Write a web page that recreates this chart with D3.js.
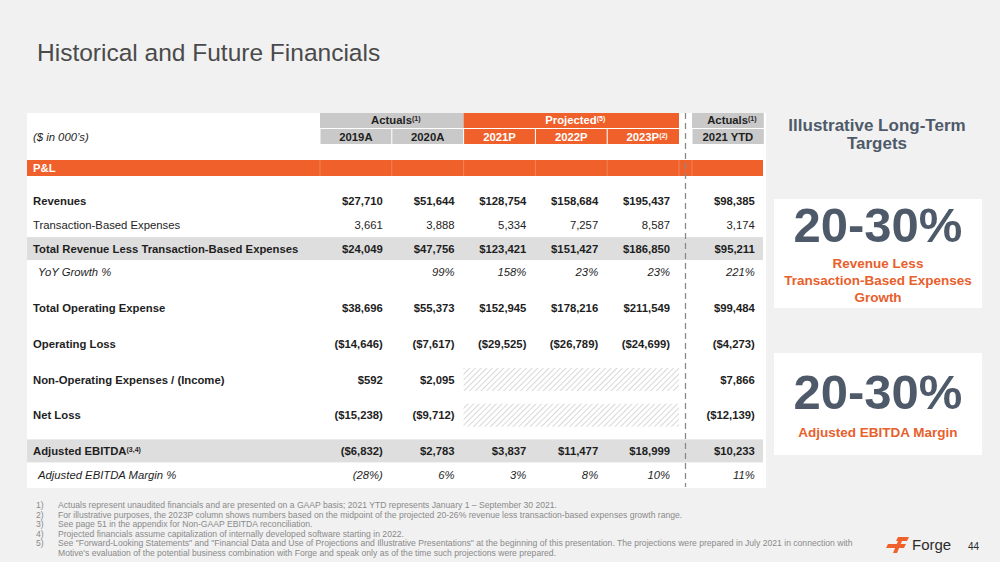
<!DOCTYPE html>
<html><head><meta charset="utf-8">
<script src="https://cdn.jsdelivr.net/npm/d3@7"></script>
<style>
html,body{margin:0;padding:0;background:#f1f1f1;}
svg{display:block;font-family:"Liberation Sans",Arial,sans-serif;}
</style></head>
<body><svg id="c" width="1000" height="562"></svg>
<script>
// ---------- DATA ----------
const columns = ["2019A","2020A","2021P","2022P","2023P","2021 YTD"];
const columnNotes = ["","","","","(2)",""];
const groups = [
  {label:"Actuals", note:"(1)", cols:["2019A","2020A"], kind:"actual"},
  {label:"Projected", note:"(5)", cols:["2021P","2022P","2023P"], kind:"proj"},
  {label:"Actuals", note:"(1)", cols:["2021 YTD"], kind:"actual"}
];
const rowLabels = ["Revenues","Transaction-Based Expenses","Total Revenue Less Transaction-Based Expenses","YoY Growth %","Total Operating Expense","Operating Loss","Non-Operating Expenses / (Income)","Net Loss","Adjusted EBITDA","Adjusted EBITDA Margin %"];
const rowNotes = ["","","","","","","","","(3,4)",""];
const rowStyle = ["bold","normal","band","italic","bold","bold","bold","bold","band","italic"];
const rowSpaced = [false,false,false,false,true,true,true,true,true,false];
const revenues = ["$27,710","$51,644","$128,754","$158,684","$195,437","$98,385"];
const transExp = ["3,661","3,888","5,334","7,257","8,587","3,174"];
const totalRevLess = ["$24,049","$47,756","$123,421","$151,427","$186,850","$95,211"];
const yoyGrowth = ["","99%","158%","23%","23%","221%"];
const totalOpex = ["$38,696","$55,373","$152,945","$178,216","$211,549","$99,484"];
const operatingLoss = ["($14,646)","($7,617)","($29,525)","($26,789)","($24,699)","($4,273)"];
const nonOperating = ["$592","$2,095",null,null,null,"$7,866"];
const netLoss = ["($15,238)","($9,712)",null,null,null,"($12,139)"];
const adjEbitda = ["($6,832)","$2,783","$3,837","$11,477","$18,999","$10,233"];
const adjEbitdaMargin = ["(28%)","6%","3%","8%","10%","11%"];
const rowValues = [revenues,transExp,totalRevLess,yoyGrowth,totalOpex,operatingLoss,nonOperating,netLoss,adjEbitda,adjEbitdaMargin];
const targetValues = ["20-30%","20-30%"];
const targetLabels = [["Revenue Less","Transaction-Based Expenses","Growth"],["Adjusted EBITDA Margin"]];
const footnotes = [
 "Actuals represent unaudited financials and are presented on a GAAP basis; 2021 YTD represents January 1 – September 30 2021.",
 "For illustrative purposes, the 2023P column shows numbers based on the midpoint of the projected 20-26% revenue less transaction-based expenses growth range.",
 "See page 51 in the appendix for Non-GAAP EBITDA reconciliation.",
 "Projected financials assume capitalization of internally developed software starting in 2022.",
 "See \"Forward-Looking Statements\" and \"Financial Data and Use of Projections and Illustrative Presentations\" at the beginning of this presentation. The projections were prepared in July 2021 in connection with\nMotive's evaluation of the potential business combination with Forge and speak only as of the time such projections were prepared."
];

// ---------- LAYOUT ----------
const ORANGE="#f0602a", GRAYH="#c9c9c9", BAND="#dedede", DARK="#1e1e1e", SLATE="#4e5a69";
const FS = 11.3;
const svg = d3.select("#c");
const defs = svg.append("defs");
const pat = defs.append("pattern").attr("id","hatch").attr("patternUnits","userSpaceOnUse")
  .attr("width",4).attr("height",4).attr("patternTransform","rotate(45)");
pat.append("rect").attr("width",4).attr("height",4).attr("fill","#fff");
pat.append("line").attr("x1",0).attr("y1",0).attr("x2",0).attr("y2",4).attr("stroke","#a8a8a8").attr("stroke-width",0.9);

svg.append("text").attr("x",37).attr("y",61).attr("font-size",24.5).attr("fill","#4a4a4a")
  .text("Historical and Future Financials");

// table panel
const T = {x0:27, x1:766, y0:113, y1:488};
svg.append("rect").attr("x",T.x0).attr("y",T.y0).attr("width",T.x1-T.x0).attr("height",T.y1-T.y0).attr("fill","#fff");

// column scale (first five) + YTD after a gap
const xMain = d3.scaleBand().domain(columns.slice(0,5)).range([320,679]).paddingInner(0);
const gap = 13;
const colX = c => c==="2021 YTD" ? 679+gap : xMain(c);
const colW = xMain.bandwidth();

// row scale: cumulative units
const unit = 23.8;
let acc = 0; const rowPos = [];
rowLabels.forEach((r,i)=>{ acc += rowSpaced[i] ? 1.5 : 1; rowPos.push(acc); });
const yScale = d3.scaleLinear().domain([rowPos[0], rowPos[0]+1]).range([201, 201+unit]);
const yRow = i => yScale(rowPos[i]);

// header rows
const h1 = {y:113, h:15}, h2 = {y:129, h:15};
groups.forEach(g=>{
  const x0 = colX(g.cols[0]), x1 = colX(g.cols[g.cols.length-1])+colW;
  svg.append("rect").attr("x",x0).attr("y",h1.y).attr("width",x1-x0).attr("height",h1.h)
    .attr("fill", g.kind==="proj"?ORANGE:GRAYH);
  const t = svg.append("text").attr("x",(x0+x1)/2+4).attr("y",h1.y+11).attr("text-anchor","middle")
    .attr("font-size",FS).attr("font-weight","bold").attr("fill", g.kind==="proj"?"#fff":DARK);
  t.append("tspan").text(g.label);
  t.append("tspan").attr("font-size",7).attr("dy",-3).text(g.note);
});
columns.forEach((c,i)=>{
  const proj = groups[1].cols.includes(c);
  svg.append("rect").attr("x",colX(c)).attr("y",h2.y).attr("width",colW).attr("height",h2.h)
    .attr("fill", proj?ORANGE:GRAYH);
  const t = svg.append("text").attr("x",colX(c)+colW/2 + (columnNotes[i]?4:0)).attr("y",h2.y+11.5).attr("text-anchor","middle")
    .attr("font-size",FS).attr("font-weight","bold").attr("fill", proj?"#fff":DARK);
  t.append("tspan").text(c);
  if(columnNotes[i]) t.append("tspan").attr("font-size",7).attr("dy",-3).text(columnNotes[i]);
});
columns.forEach(c=>{
  svg.append("line").attr("x1",colX(c)).attr("x2",colX(c)).attr("y1",h2.y).attr("y2",h2.y+h2.h).attr("stroke","#fff").attr("stroke-width",1);
});
svg.append("line").attr("x1",320).attr("x2",679).attr("y1",128.5).attr("y2",128.5).attr("stroke","#fff");
svg.append("line").attr("x1",692).attr("x2",763).attr("y1",128.5).attr("y2",128.5).attr("stroke","#fff");

svg.append("text").attr("x",33).attr("y",141).attr("font-size",FS).attr("font-style","italic").attr("fill",DARK).text("($ in 000’s)");

// P&L bar
svg.append("rect").attr("x",27).attr("y",160).attr("width",763-27).attr("height",16).attr("fill",ORANGE);
columns.forEach(c=>{
  svg.append("line").attr("x1",colX(c)).attr("x2",colX(c)).attr("y1",160).attr("y2",176).attr("stroke","#f58b62").attr("stroke-width",0.8);
});
svg.append("line").attr("x1",679).attr("x2",679).attr("y1",160).attr("y2",176).attr("stroke","#f58b62").attr("stroke-width",0.8);
svg.append("text").attr("x",33).attr("y",172).attr("font-size",FS).attr("font-weight","bold").attr("fill","#fff").text("P&L");

// rows
rowLabels.forEach((lab,i)=>{
  const cy = yRow(i);
  const st = rowStyle[i];
  if(st==="band"){
    svg.append("rect").attr("x",27).attr("y",cy-11.5).attr("width",763-27).attr("height",23).attr("fill",BAND);
  }
  const bold = st==="bold"||st==="band";
  const italic = st==="italic";
  const lt = svg.append("text").attr("x", italic?38:33).attr("y",cy+4).attr("font-size",FS)
    .attr("font-weight",bold?"bold":"normal").attr("font-style",italic?"italic":"normal").attr("fill",DARK);
  lt.append("tspan").text(lab);
  if(rowNotes[i]) lt.append("tspan").attr("font-size",7).attr("dy",-3).text(rowNotes[i]);
  const vals = rowValues[i];
  const miss = columns.filter((c,j)=>vals[j]===null);
  if(miss.length){
    const x0 = colX(miss[0]), x1 = colX(miss[miss.length-1])+colW;
    svg.append("rect").attr("x",x0).attr("y",cy-11.5).attr("width",x1-x0).attr("height",23).attr("fill","url(#hatch)");
  }
  columns.forEach((c,j)=>{
    if(vals[j]===null||vals[j]==="") return;
    svg.append("text").attr("x",colX(c)+colW-9).attr("y",cy+4).attr("text-anchor","end").attr("font-size",FS)
      .attr("font-weight",bold?"bold":"normal").attr("font-style",italic?"italic":"normal").attr("fill",DARK).text(vals[j]);
  });
});

// dashed separator
svg.append("line").attr("x1",685.5).attr("x2",685.5).attr("y1",113).attr("y2",487)
  .attr("stroke","#8a8a8a").attr("stroke-width",1.3).attr("stroke-dasharray","6,4");

// right panel
svg.append("text").attr("x",877).attr("y",131).attr("text-anchor","middle").attr("font-size",17).attr("font-weight","bold").attr("fill",SLATE).text("Illustrative Long-Term");
svg.append("text").attr("x",877).attr("y",149).attr("text-anchor","middle").attr("font-size",17).attr("font-weight","bold").attr("fill",SLATE).text("Targets");
const boxes = [{y0:199,y1:308,num:242,lab:268},{y0:353,y1:455,num:409,lab:437}];
boxes.forEach((b,i)=>{
  svg.append("rect").attr("x",774).attr("y",b.y0).attr("width",208).attr("height",b.y1-b.y0).attr("fill","#fff");
  svg.append("text").attr("x",878).attr("y",b.num).attr("text-anchor","middle").attr("font-size",49).attr("font-weight","bold").attr("fill",SLATE).text(targetValues[i]);
  targetLabels[i].forEach((l,k)=>{
    svg.append("text").attr("x",878).attr("y",b.lab+k*17).attr("text-anchor","middle").attr("font-size",13.5).attr("font-weight","bold").attr("fill","#e8602c").text(l);
  });
});

// footnotes
let fy = 508;
footnotes.forEach((f,i)=>{
  svg.append("text").attr("x",36).attr("y",fy).attr("font-size",8.6).attr("fill","#8a8a8a").text((i+1)+")");
  f.split("\n").forEach((ln,k)=>{
    svg.append("text").attr("x",58).attr("y",fy).attr("font-size",8.6).attr("fill","#8a8a8a").text(ln);
    fy += 9.5;
  });
});

// logo
const lg = svg.append("g");
lg.append("path").attr("d","M898 537 L909 537 L907 541 L896 541 Z").attr("fill",ORANGE);
lg.append("path").attr("d","M888 544 L906 544 L904 548 L886 548 Z").attr("fill",ORANGE);
lg.append("path").attr("d","M898 541 L902 541 L897 553 L893 553 Z").attr("fill",ORANGE);
svg.append("text").attr("x",912).attr("y",550).attr("font-size",15).attr("fill","#2b2b2b").text("Forge");
svg.append("text").attr("x",968).attr("y",550).attr("font-size",10).attr("fill","#2b2b2b").text("44");
</script></body></html>
